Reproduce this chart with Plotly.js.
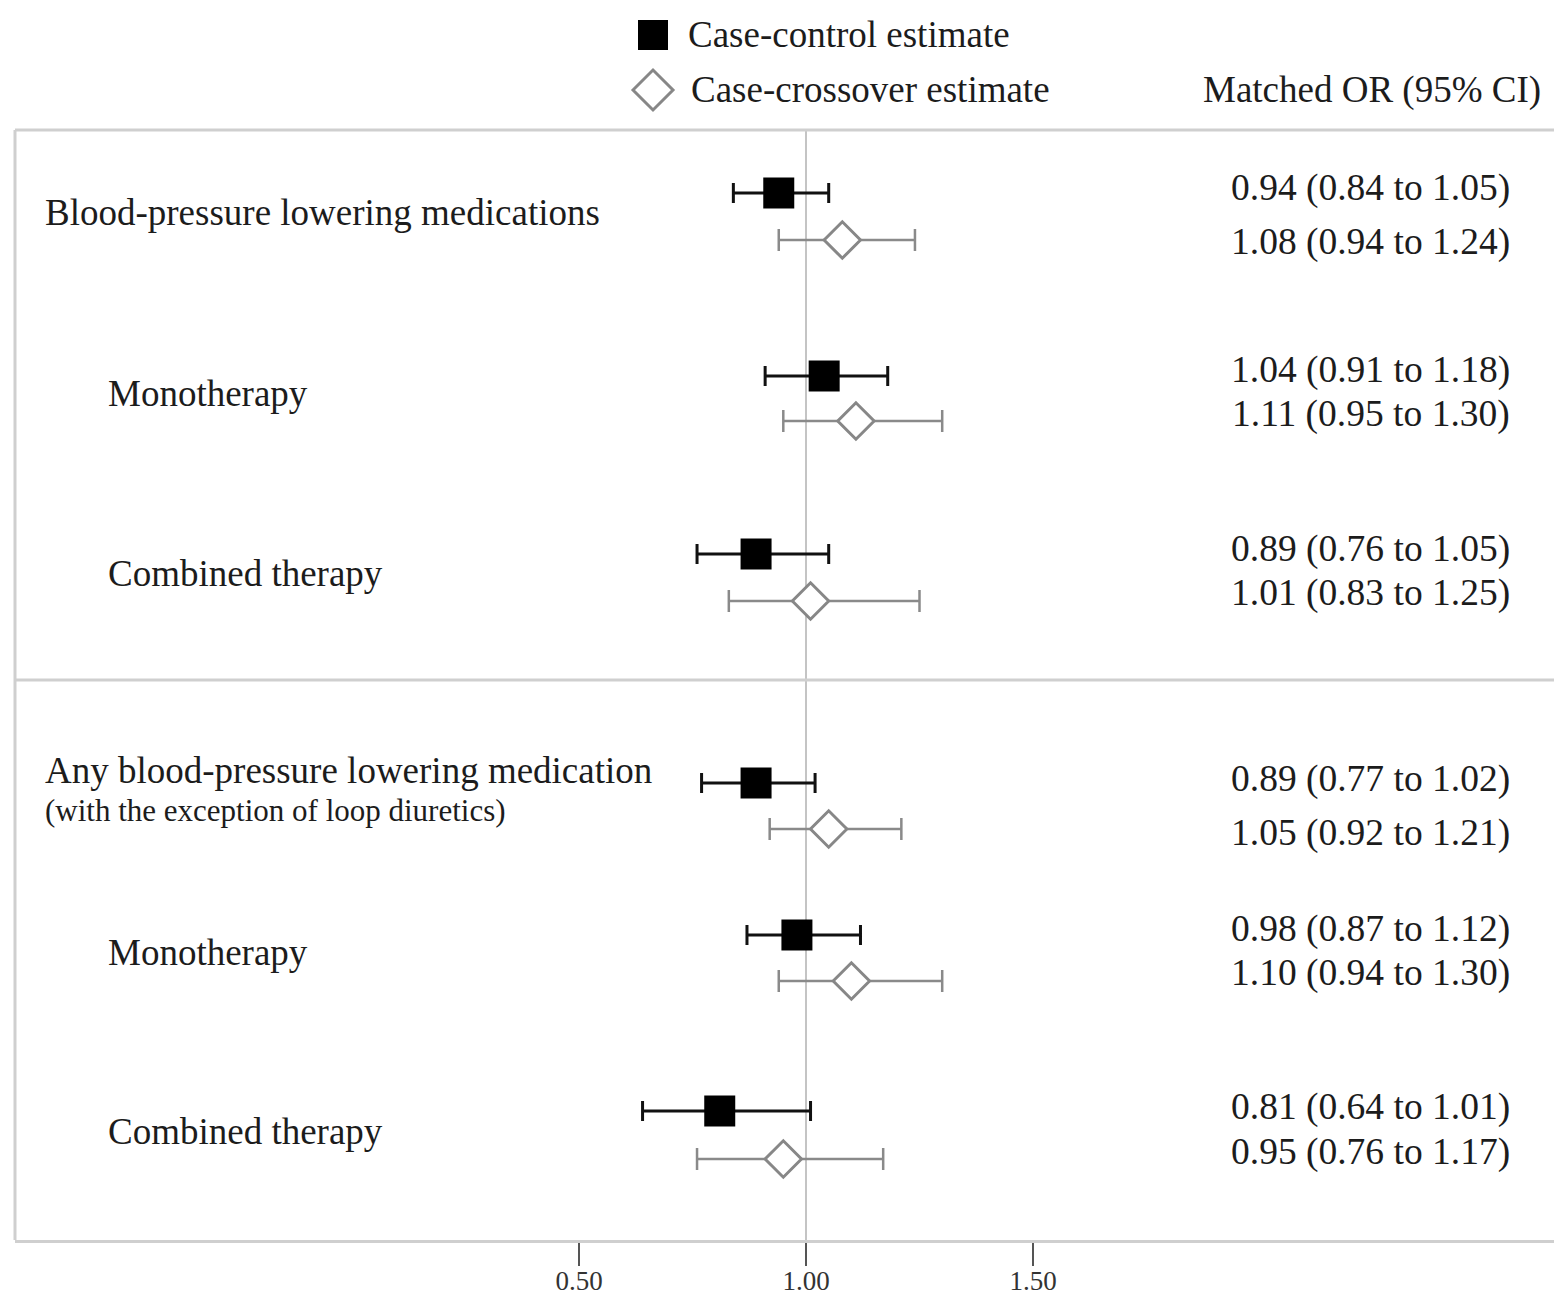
<!DOCTYPE html>
<html>
<head>
<meta charset="utf-8">
<script src="https://cdn.plot.ly/plotly-3.0.1.min.js"></script>
<style>html,body{margin:0;padding:0;background:#fff;}#chart{width:1554px;height:1301px;}</style>
</head>
<body>
<div id="chart"></div>
<script>
// ---- Data ----
const rowLabels = ["Blood-pressure lowering medications", "Monotherapy", "Combined therapy",
                   "Any blood-pressure lowering medication", "Monotherapy", "Combined therapy"];
const rowSubLabels = ["", "", "", "(with the exception of loop diuretics)", "", ""];
const ccOR = [0.94, 1.04, 0.89, 0.89, 0.98, 0.81];
const ccLo = [0.84, 0.91, 0.76, 0.77, 0.87, 0.64];
const ccHi = [1.05, 1.18, 1.05, 1.02, 1.12, 1.01];
const cxOR = [1.08, 1.11, 1.01, 1.05, 1.10, 0.95];
const cxLo = [0.94, 0.95, 0.83, 0.92, 0.94, 0.76];
const cxHi = [1.24, 1.30, 1.25, 1.21, 1.30, 1.17];
const seriesNames = ["Case-control estimate", "Case-crossover estimate"];
const columnHeader = "Matched OR (95% CI)";
const tickValues = [0.5, 1.0, 1.5];
const tickLabels = ["0.50", "1.00", "1.50"];

// ---- Layout geometry (pixels) ----
const W = 1554, H = 1301;
const M = {l: 15, r: 0, t: 130, b: 61};
const plotW = W - M.l - M.r, plotH = H - M.t - M.b;
const px = p => (p - M.l) / plotW;          // pixel x -> paper
const py = p => (H - M.b - p) / plotH;      // pixel y -> paper
const rowCCy = [193, 376, 554, 783, 935, 1111];
const rowCXy = [240, 421, 601, 829, 981, 1159];
const txtCCy = [188, 370, 549, 779, 929, 1107];
const txtCXy = [242, 414, 593, 833, 973, 1152];
const labelY = [212, 393, 573, 770, 952, 1131];
const labelX = [43, 106, 106, 43, 106, 106];
const pxPerUnit = 454, refPx = 806;
const xRange = [1 - (refPx - M.l) / pxPerUnit, 1 + (W - M.r - refPx) / pxPerUnit];

const FONT = "Liberation Serif, Times New Roman, serif";
const TXT = "#1c1c1c";
const fmt = v => v.toFixed(2);

const traces = [
  {
    type: "scatter", mode: "markers", name: seriesNames[0],
    x: ccOR, y: rowCCy, showlegend: false, hoverinfo: "x",
    marker: {symbol: "square", size: 31, color: "#000"},
    error_x: {type: "data", symmetric: false,
      array: ccHi.map((h, i) => h - ccOR[i]),
      arrayminus: ccLo.map((l, i) => ccOR[i] - l),
      color: "#111", thickness: 3, width: 10}
  },
  {
    type: "scatter", mode: "markers", name: seriesNames[1],
    x: cxOR, y: rowCXy, showlegend: false, hoverinfo: "x",
    marker: {symbol: "diamond", size: 28, color: "#fff", line: {color: "#878787", width: 3}},
    error_x: {type: "data", symmetric: false,
      array: cxHi.map((h, i) => h - cxOR[i]),
      arrayminus: cxLo.map((l, i) => cxOR[i] - l),
      color: "#8a8a8a", thickness: 2.5, width: 11}
  }
];

const annotations = [];
rowLabels.forEach((t, i) => {
  annotations.push({text: t, xref: "paper", yref: "paper", x: px(labelX[i]), y: py(labelY[i]),
    xanchor: "left", yanchor: "middle", showarrow: false, font: {family: FONT, size: 37, color: TXT}});
  if (rowSubLabels[i]) {
    annotations.push({text: rowSubLabels[i], xref: "paper", yref: "paper", x: px(labelX[i]), y: py(labelY[i] + 40),
      xanchor: "left", yanchor: "middle", showarrow: false, font: {family: FONT, size: 31, color: TXT}});
  }
  annotations.push({text: `${fmt(ccOR[i])} (${fmt(ccLo[i])} to ${fmt(ccHi[i])})`, xref: "paper", yref: "paper",
    x: px(1512), y: py(txtCCy[i]), xanchor: "right", yanchor: "middle", showarrow: false,
    font: {family: FONT, size: 37.5, color: TXT}});
  annotations.push({text: `${fmt(cxOR[i])} (${fmt(cxLo[i])} to ${fmt(cxHi[i])})`, xref: "paper", yref: "paper",
    x: px(1512), y: py(txtCXy[i]), xanchor: "right", yanchor: "middle", showarrow: false,
    font: {family: FONT, size: 37.5, color: TXT}});
});
// legend texts and column header
annotations.push({text: seriesNames[0], xref: "paper", yref: "paper", x: px(686), y: py(35),
  xanchor: "left", yanchor: "middle", showarrow: false, font: {family: FONT, size: 37, color: TXT}});
annotations.push({text: seriesNames[1], xref: "paper", yref: "paper", x: px(689), y: py(90),
  xanchor: "left", yanchor: "middle", showarrow: false, font: {family: FONT, size: 37, color: TXT}});
annotations.push({text: columnHeader, xref: "paper", yref: "paper", x: px(1543), y: py(90),
  xanchor: "right", yanchor: "middle", showarrow: false, font: {family: FONT, size: 37, color: TXT}});

const frameColor = "#cfcfcf";
const shapes = [
  // reference line at OR = 1
  {type: "line", xref: "x", yref: "paper", x0: 1, x1: 1, y0: 0, y1: 1, layer: "below",
    line: {color: "#c4c4c4", width: 2}},
  // frame: left, top and group divider
  {type: "line", xref: "paper", yref: "paper", x0: 0, x1: 0, y0: 0, y1: 1, line: {color: frameColor, width: 3}},
  {type: "line", xref: "paper", yref: "paper", x0: 0, x1: 1, y0: 1, y1: 1, line: {color: frameColor, width: 3}},
  {type: "line", xref: "paper", yref: "paper", x0: 0, x1: 1, y0: py(680), y1: py(680), line: {color: frameColor, width: 3}},
  // legend symbols
  {type: "rect", xref: "paper", yref: "paper", x0: px(638), x1: px(668), y0: py(50), y1: py(20),
    fillcolor: "#000", line: {width: 0}},
  {type: "path", xref: "paper", yref: "paper",
    path: `M ${px(633)},${py(90)} L ${px(653)},${py(70)} L ${px(673)},${py(90)} L ${px(653)},${py(110)} Z`,
    fillcolor: "#fff", line: {color: "#878787", width: 3}}
];

const layout = {
  width: W, height: H,
  margin: M,
  paper_bgcolor: "#fff", plot_bgcolor: "#fff",
  showlegend: false,
  font: {family: FONT, color: TXT},
  xaxis: {range: xRange, tickvals: tickValues, ticktext: tickLabels, ticks: "outside", ticklen: 23,
    tickwidth: 2, tickcolor: "#555", showgrid: false, zeroline: false, showline: true,
    ticklabelstandoff: -8,
    linecolor: frameColor, linewidth: 3, tickfont: {family: FONT, size: 27, color: "#333"}, fixedrange: true},
  yaxis: {range: [H - M.b, M.t], visible: false, showgrid: false, zeroline: false, fixedrange: true},
  annotations: annotations,
  shapes: shapes
};

Plotly.newPlot("chart", traces, layout, {displayModeBar: false, staticPlot: true});
</script>
</body>
</html>
